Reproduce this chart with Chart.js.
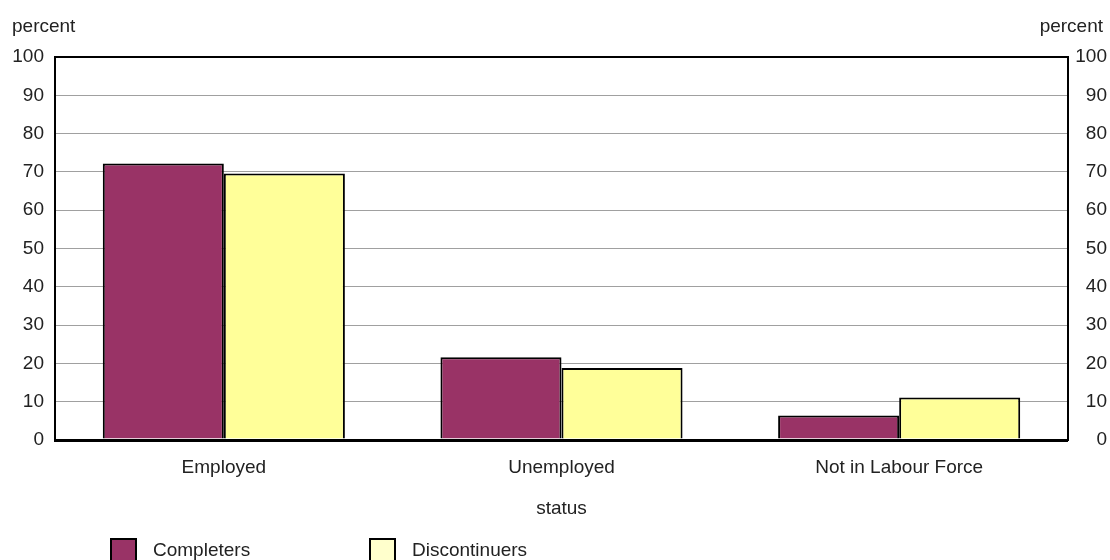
<!DOCTYPE html>
<html>
<head>
<meta charset="utf-8">
<script src="https://cdn.jsdelivr.net/npm/chart.js@4/dist/chart.umd.min.js"></script>
<style>
  html, body { margin: 0; padding: 0; background: #fff; }
  #wrap { position: relative; width: 1110px; height: 560px; overflow: hidden; }
  .legend-box { position: absolute; width: 27px; height: 27px; top: 538px; border: 2px solid #000; box-sizing: border-box; }
  .legend-text { position: absolute; top: 537px; font: 19px "Liberation Sans", Arial, sans-serif; color: #222; line-height: 26px; }
</style>
</head>
<body>
<div id="wrap">
  <canvas id="chart" width="1110" height="560"></canvas>
  <div class="legend-box" style="left:110px;background:#993366"></div>
  <div class="legend-text" style="left:153px">Completers</div>
  <div class="legend-box" style="left:369px;background:#ffffcc"></div>
  <div class="legend-text" style="left:412px">Discontinuers</div>
</div>
<script>
const categories = ['Employed', 'Unemployed', 'Not in Labour Force']
const completers = [72.2, 21.6, 6.4]
const discontinuers = [69.6, 18.8, 11.1]
const yMin = 0
const yMax = 100
const yStep = 10

const FONT = '"Liberation Sans", Arial, sans-serif'
const FONT_SIZE = 19
const TEXT = '#222'

// "percent" unit labels above both y axes
const unitLabels = {
  id: 'unitLabels',
  afterDraw(chart) {
    const ctx = chart.ctx
    ctx.save()
    ctx.font = `${FONT_SIZE}px ${FONT}`
    ctx.fillStyle = TEXT
    ctx.textBaseline = 'alphabetic'
    ctx.textAlign = 'left'
    ctx.fillText('percent', 12, 32)
    ctx.textAlign = 'right'
    ctx.fillText('percent', 1103, 32)
    ctx.restore()
  }
}

const gridColor = (c) => {
  const v = c.tick && c.tick.value
  if (v === yMin || v === yMax) return '#000'
  return '#a0a0a0'
}
const gridWidth = (c) => {
  const v = c.tick && c.tick.value
  if (v === yMin) return 3
  if (v === yMax) return 2
  return 1
}

new Chart(document.getElementById('chart'), {
  type: 'bar',
  data: {
    labels: categories,
    datasets: [
      {
        label: 'Completers',
        data: completers,
        backgroundColor: '#993366',
        borderColor: '#000',
        borderWidth: 2,
        borderSkipped: 'bottom',
        yAxisID: 'y'
      },
      {
        label: 'Discontinuers',
        data: discontinuers,
        backgroundColor: '#ffff99',
        borderColor: '#000',
        borderWidth: 2,
        borderSkipped: 'bottom',
        yAxisID: 'y'
      }
    ]
  },
  options: {
    responsive: false,
    animation: false,
    layout: { padding: { top: 57, bottom: 40, left: 0, right: 3 } },
    datasets: { bar: { categoryPercentage: 0.717, barPercentage: 1.0 } },
    plugins: {
      legend: { display: false },
      tooltip: { enabled: false }
    },
    scales: {
      x: {
        grid: { display: false, drawTicks: false },
        border: { display: false },
        ticks: { color: TEXT, font: { family: FONT, size: FONT_SIZE }, padding: 16 },
        title: {
          display: true,
          text: 'status',
          color: TEXT,
          font: { family: FONT, size: FONT_SIZE },
          padding: { top: 0, bottom: 0 }
        },
        afterFit(scale) { scale.height = 80 }
      },
      y: {
        position: 'left',
        min: yMin,
        max: yMax,
        grid: { color: gridColor, lineWidth: gridWidth, drawTicks: false },
        border: { display: true, color: '#000', width: 2 },
        ticks: { stepSize: yStep, color: TEXT, font: { family: FONT, size: FONT_SIZE }, padding: 11 },
        afterFit(scale) { scale.width = 55 }
      },
      y2: {
        position: 'right',
        min: yMin,
        max: yMax,
        grid: { display: false, drawTicks: false },
        border: { display: true, color: '#000', width: 2 },
        ticks: { stepSize: yStep, color: TEXT, font: { family: FONT, size: FONT_SIZE }, crossAlign: 'far', padding: 8 },
        afterFit(scale) { scale.width = 39 }
      }
    }
  },
  plugins: [unitLabels]
})
</script>
</body>
</html>
